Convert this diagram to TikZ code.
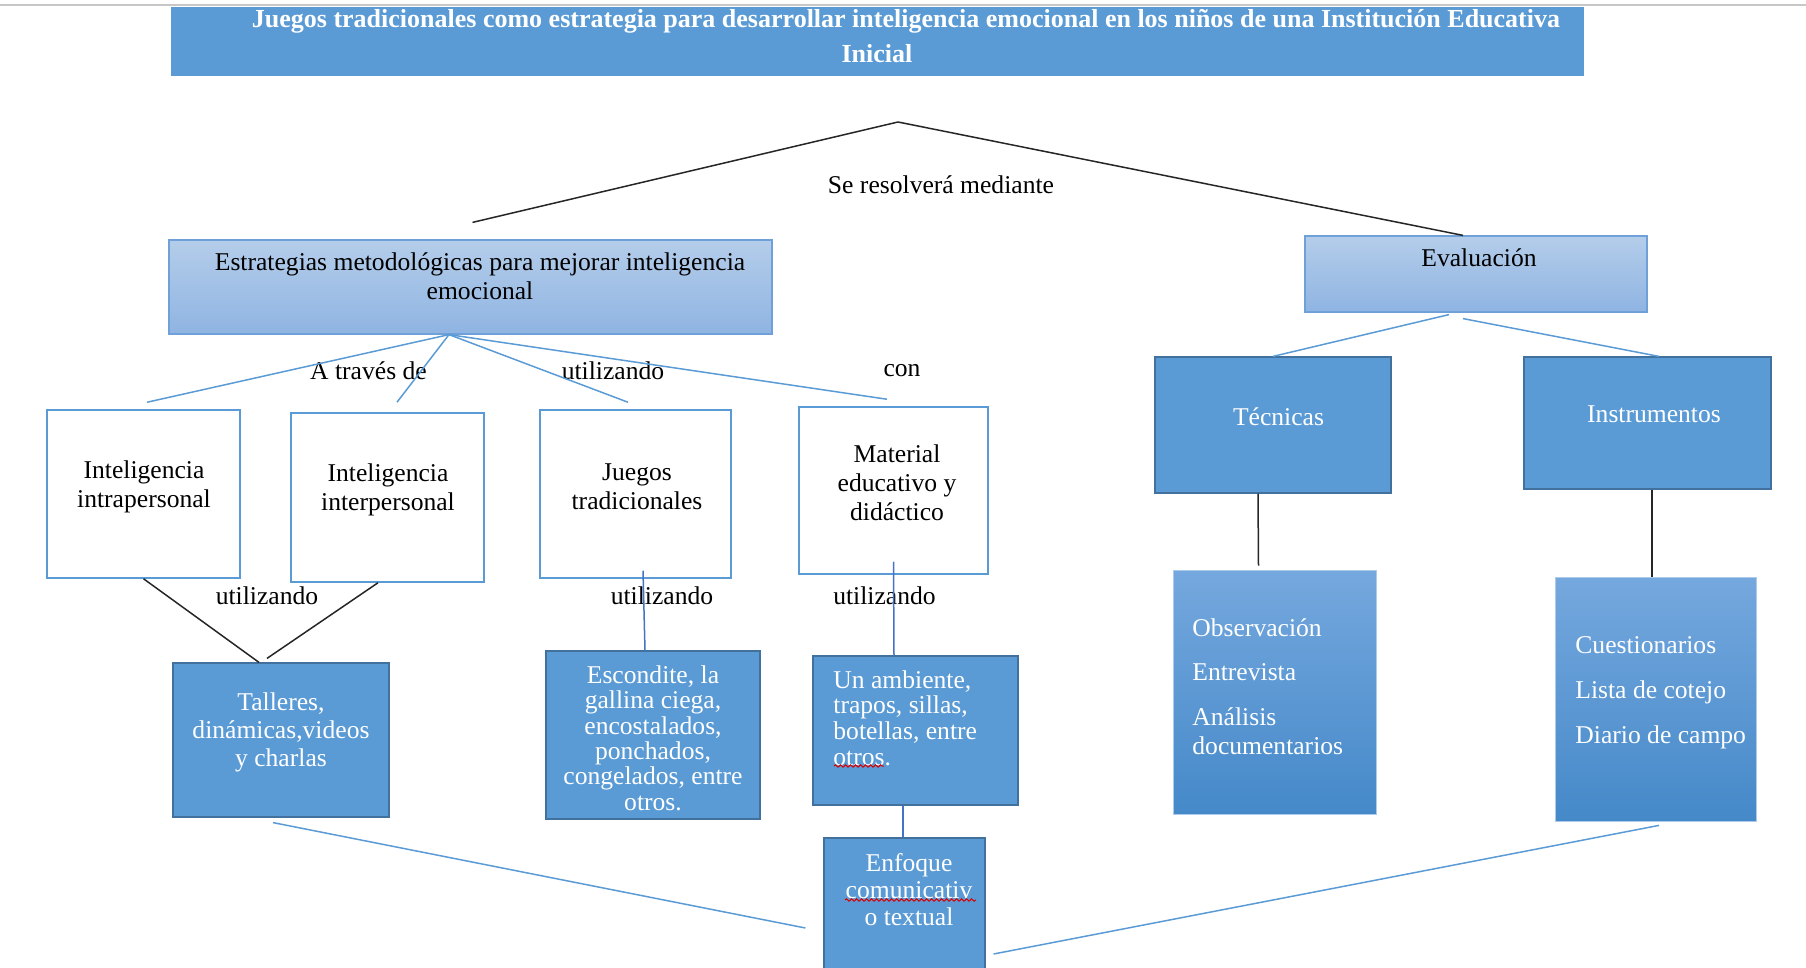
\documentclass[tikz,border=0pt]{standalone}
\usepackage{fontspec}
\setmainfont{Liberation Serif}
\usetikzlibrary{decorations.pathmorphing}
\definecolor{office}{HTML}{5B9BD5}
\definecolor{officeedge}{HTML}{41719C}
\definecolor{lighttop}{HTML}{B4CDEA}
\definecolor{lightbot}{HTML}{8FB4E2}
\definecolor{lightedge}{HTML}{6FA0D8}
\definecolor{midtop}{HTML}{75A8DE}
\definecolor{midbot}{HTML}{4589C9}
\definecolor{vblue}{HTML}{4472C4}
\tikzset{
  every node/.style={font=\fontsize{12.8}{14.4}\selectfont},
  txt/.style={inner sep=0pt, align=center},
  wtxt/.style={txt, text=white},
  whitebox/.style={draw=office, fill=white, line width=0.75pt},
  darkbox/.style={draw=officeedge, fill=office, line width=0.6pt},
  lightbox/.style={draw=lightedge, top color=lighttop, bottom color=lightbot, line width=0.6pt},
  midbox/.style={draw=midtop!60!white, top color=midtop, bottom color=midbot, line width=0.4pt},
  bline/.style={draw=office, line width=0.75pt},
  vline/.style={draw=vblue, line width=0.75pt},
  kline/.style={draw=black!85, line width=0.75pt},
  spell/.style={draw=red!85!black, line width=0.5pt, decorate, decoration={snake, amplitude=0.6pt, segment length=2.5pt}}
}
\begin{document}
\begin{tikzpicture}[x=0.5pt,y=-0.5pt]
\useasboundingbox (0,0) rectangle (1806,968);
\draw[black!22, line width=1.2pt] (0,5) -- (1806,5);

% boxes
\node[fill=office, minimum width=706.5pt, minimum height=34.5pt] (title) at (877,41.5) {};
\node[lightbox, minimum width=301.5pt, minimum height=47pt] (estr) at (470.5,287) {};
\node[lightbox, minimum width=171pt, minimum height=38pt] (eval) at (1476,274) {};
\node[darkbox, minimum width=118pt, minimum height=68pt] (tec) at (1273,425) {};
\node[darkbox, minimum width=123.5pt, minimum height=66pt] (instr) at (1647.5,423) {};
\node[whitebox, minimum width=96.5pt, minimum height=84pt] (intra) at (143.5,494) {};
\node[whitebox, minimum width=96.5pt, minimum height=84.5pt] (inter) at (387.5,497.5) {};
\node[whitebox, minimum width=95.5pt, minimum height=84pt] (juegos) at (635.5,494) {};
\node[whitebox, minimum width=94.5pt, minimum height=83.5pt] (mat) at (893.5,490.5) {};
\node[darkbox, minimum width=108pt, minimum height=77pt] (tall) at (281,740) {};
\node[darkbox, minimum width=107pt, minimum height=84pt] (esc) at (653,735) {};
\node[darkbox, minimum width=102.5pt, minimum height=74.5pt] (amb) at (915.5,730.5) {};
\node[darkbox, minimum width=80.5pt, minimum height=71pt] (enf) at (904.5,909) {};
\node[midbox, minimum width=101.5pt, minimum height=122pt] (obs) at (1274.5,692) {};
\node[midbox, minimum width=100.5pt, minimum height=122pt] (cuest) at (1655.5,699) {};

% texts
\node[wtxt, font=\bfseries\fontsize{13}{17.9}\selectfont] (titleT) at (877,36)
  {\hspace*{29pt}Juegos tradicionales como estrategia para desarrollar inteligencia emocional en los niños de una Institución Educativa\\Inicial};
\node[txt] (estrT) at (480,276.5) {Estrategias metodológicas para mejorar inteligencia\\emocional};
\node[txt] (evalT) at (1479,258) {Evaluación};
\node[wtxt] (tecT) at (1278.5,417) {Técnicas};
\node[wtxt] (instrT) at (1654,414.5) {Instrumentos};
\node[txt] (intraT) at (144,486.5) {Inteligencia\\intrapersonal};
\node[txt] (interT) at (388,489.5) {Inteligencia\\interpersonal};
\node[txt] (juegosT) at (637,486.5) {Juegos\\tradicionales};
\node[txt] (matT) at (897,482.5) {Material\\educativo y\\didáctico};
\node[wtxt, font=\fontsize{12.8}{14}\selectfont] (tallT) at (281,732) {Talleres,\\dinámicas,videos\\y charlas};
\node[wtxt, font=\fontsize{12.8}{12.7}\selectfont] (escT) at (653,738)
  {Escondite, la\\gallina ciega,\\encostalados,\\ponchados,\\congelados, entre\\otros.};
\node[wtxt, align=left, anchor=west, font=\fontsize{12.8}{12.8}\selectfont] (ambT) at (833,718)
  {Un ambiente,\\trapos, sillas,\\botellas, entre\\otros.};
\node[wtxt, font=\fontsize{12.8}{13.5}\selectfont] (enfT) at (909,890) {Enfoque\\comunicativ\\o textual};
\node[wtxt, align=left, anchor=west] (obsT) at (1192,686.5)
  {Observación\\[8pt]Entrevista\\[8pt]Análisis\\documentarios};
\node[wtxt, align=left, anchor=west] (cuestT) at (1575,692.5)
  {Cuestionarios\\[8pt]Lista de cotejo\\[8pt]Diario de campo};
\draw[spell] (834,766) -- (884,766);
\draw[spell] (845,900) -- (976,900);

% labels
\node[txt] (lres) at (941,185) {Se resolverá mediante};
\node[txt] (ltrav) at (368.5,371) {A través de};
\node[txt] (lutil1) at (613,371) {utilizando};
\node[txt] (lcon) at (902,371) {con};
\node[txt] (lutil2) at (267,595.5) {utilizando};
\node[txt] (lutil3) at (662,595.5) {utilizando};
\node[txt] (lutil4) at (884.5,595.5) {utilizando};

% connectors
\coordinate (apex) at (898,122);
\draw[kline] (apex) -- ([xshift=1pt,yshift=8.5pt]estr.north);
\draw[kline] (apex) -- ([xshift=-6.5pt]eval.north);
\draw[bline] ([xshift=-10.75pt]estr.south) -- ([xshift=1.75pt,yshift=3.5pt]intra.north);
\draw[bline] ([xshift=-10.75pt]estr.south) -- ([xshift=4.75pt,yshift=5pt]inter.north);
\draw[bline] ([xshift=-10.75pt]estr.south) -- ([xshift=-3.75pt,yshift=3.5pt]juegos.north);
\draw[bline] ([xshift=-10.75pt]estr.south) -- ([xshift=-3.25pt,yshift=3.5pt]mat.north);
\draw[bline] ([xshift=-13.5pt,yshift=-1pt]eval.south) -- (tec.north);
\draw[bline] ([xshift=-6.5pt,yshift=-3pt]eval.south) -- ([xshift=5.75pt]instr.north);
\draw[kline] ([xshift=-7.5pt]tec.south) -- ([xshift=-8pt,yshift=2pt]obs.north);
\draw[kline] ([xshift=2.25pt]instr.south) -- ([xshift=-1.75pt]cuest.north);
\draw[kline] (intra.south) -- ([xshift=-11pt]tall.north);
\draw[kline] ([xshift=-4.75pt]inter.south) -- ([xshift=-7pt,yshift=2pt]tall.north);
\draw[vline] ([xshift=3.75pt,yshift=4pt]juegos.south) -- ([xshift=-4pt]esc.north);
\draw[vline] ([yshift=6.5pt]mat.south) -- ([xshift=-10.75pt]amb.north);
\draw[vline] ([xshift=-6.25pt]amb.south) -- ([xshift=-0.75pt]enf.north);
\draw[bline] ([xshift=-4pt,yshift=-2.5pt]tall.south) -- ([xshift=-9pt,yshift=-9.5pt]enf.west);
\draw[bline] ([xshift=1.75pt,yshift=-2pt]cuest.south) -- ([xshift=4pt,yshift=-22.5pt]enf.east);
\end{tikzpicture}
\end{document}
